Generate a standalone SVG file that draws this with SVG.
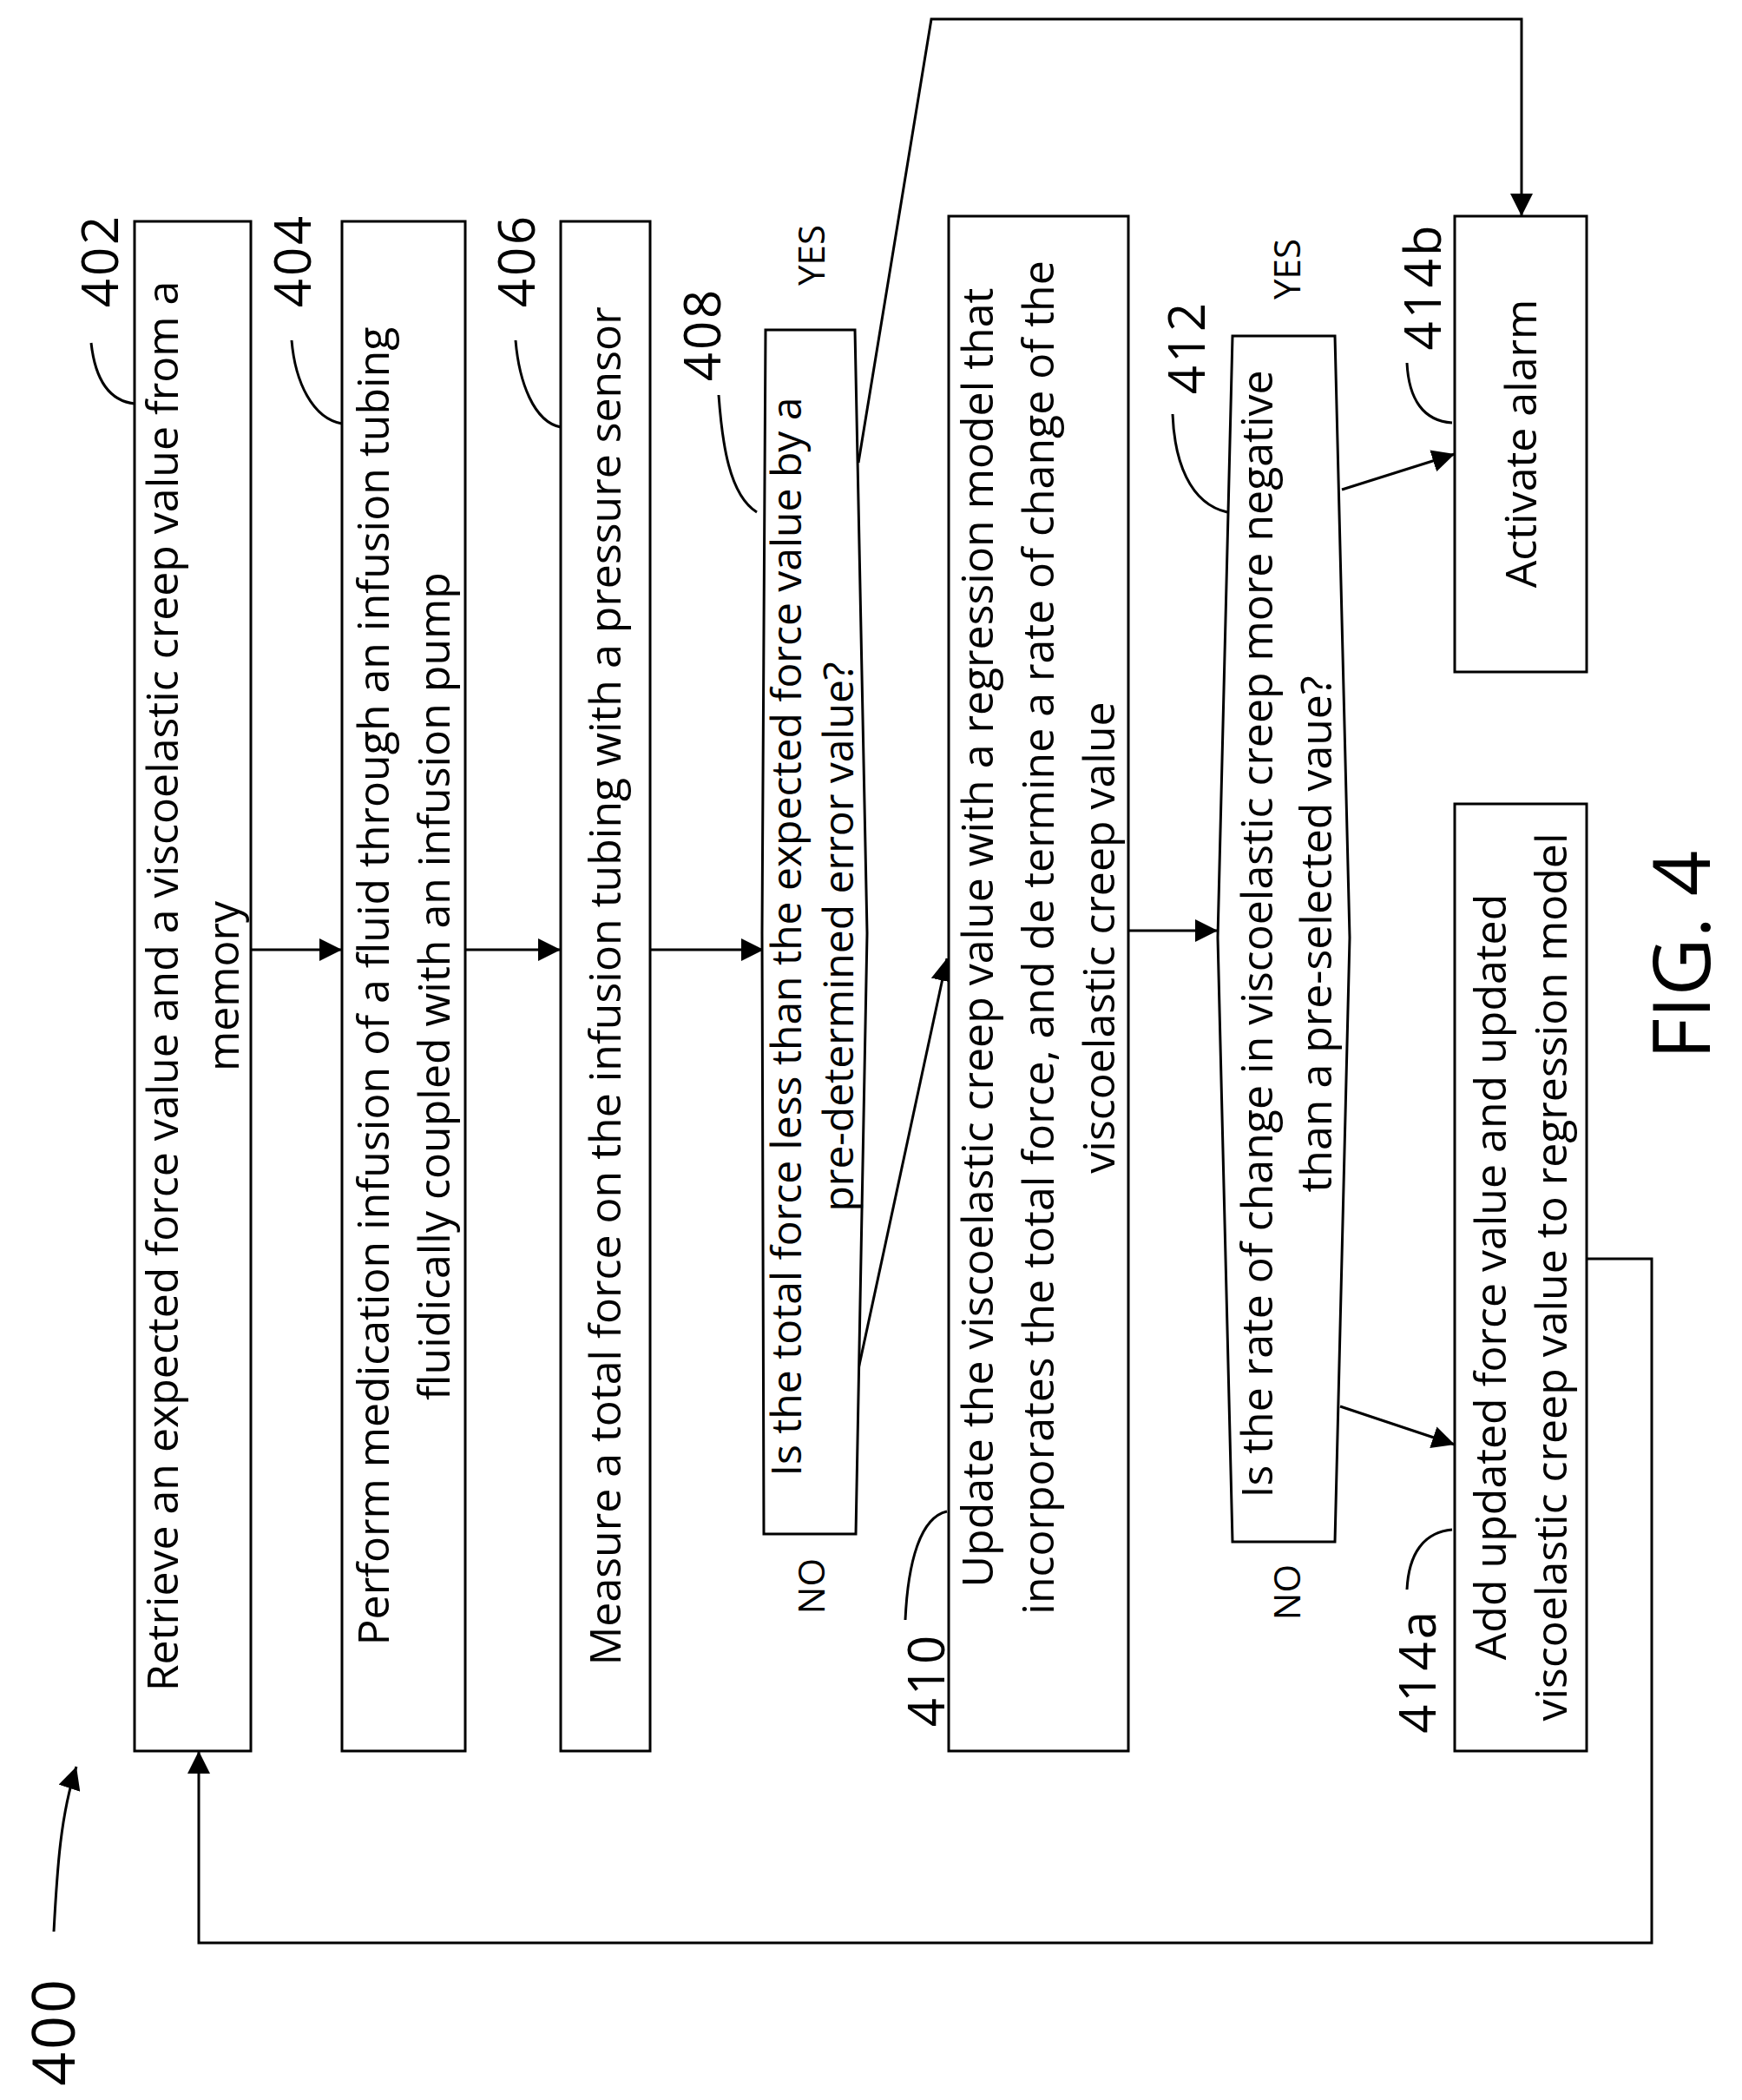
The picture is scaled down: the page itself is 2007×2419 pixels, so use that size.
<svg xmlns="http://www.w3.org/2000/svg" width="2007" height="2419" viewBox="0 0 2007 2419">
<style>
.b{fill:#fff;stroke:#000;stroke-width:3}
.c{fill:none;stroke:#000;stroke-width:3}
.t{font-family:"Open Sans","Liberation Sans",sans-serif;font-size:50px;fill:#000;text-anchor:middle}
.n{font-family:"Open Sans","Liberation Sans",sans-serif;font-size:58px;fill:#000;text-anchor:middle;letter-spacing:3px}
.y{font-family:"Open Sans","Liberation Sans",sans-serif;font-size:42px;fill:#000;text-anchor:middle}
</style>
<defs>
<marker id="a2" viewBox="0 0 10 10" refX="10" refY="5" markerWidth="26" markerHeight="26" markerUnits="userSpaceOnUse" orient="auto"><path d="M0,0 L10,5 L0,10 Z" fill="#000"/></marker>
</defs>
<rect width="2007" height="2419" fill="#fff"/>
<g id="connectors" class="c">
<path d="M289 1094 H394" marker-end="url(#a2)"/>
<path d="M536 1094 H646" marker-end="url(#a2)"/>
<path d="M749 1094 H880" marker-end="url(#a2)"/>
<path d="M989 1577 L1091 1104" marker-end="url(#a2)"/>
<path d="M989 533 L1073 22 H1753 V249" marker-end="url(#a2)"/>
<path d="M1300 1072 H1403" marker-end="url(#a2)"/>
<path d="M1546 564 L1676 523" marker-end="url(#a2)"/>
<path d="M1544 1620 L1676 1664" marker-end="url(#a2)"/>
<path d="M1828 1450 H1903 V2238 H229 V2017" marker-end="url(#a2)"/>
<path d="M62 2225 C66 2150 70 2090 88 2035" marker-end="url(#a2)"/>
<path d="M105 395 C110 440 128 462 155 465"/>
<path d="M336 392 C340 440 360 482 394 488"/>
<path d="M594 392 C598 440 615 486 646 492"/>
<path d="M828 455 C832 510 840 570 872 590"/>
<path d="M1043 1866 C1046 1800 1060 1748 1091 1741"/>
<path d="M1351 477 C1353 530 1370 580 1414 590"/>
<path d="M1621 418 C1623 460 1640 485 1673 487"/>
<path d="M1621 1831 C1623 1790 1640 1765 1673 1762"/>
</g>
<g id="n400"><text class="n" transform="translate(86,2340) rotate(-90)" style="font-size:68px">400</text></g>
<g id="n402"><rect class="b" x="155" y="255" width="134" height="1762"/>
<text class="n" transform="translate(136,300) rotate(-90)">402</text>
<text class="t" transform="translate(205,1136) rotate(-90)">Retrieve an expected force value and a viscoelastic creep value from a</text>
<text class="t" transform="translate(275,1136) rotate(-90)">memory</text></g>
<g id="n404"><rect class="b" x="394" y="255" width="142" height="1762"/>
<text class="n" transform="translate(358,300) rotate(-90)">404</text>
<text class="t" transform="translate(448,1136) rotate(-90)">Perform medication infusion of a  fluid through an infusion tubing</text>
<text class="t" transform="translate(518,1136) rotate(-90)">fluidically coupled with an infusion pump</text></g>
<g id="n406"><rect class="b" x="646" y="255" width="103" height="1762"/>
<text class="n" transform="translate(616,300) rotate(-90)">406</text>
<text class="t" transform="translate(715,1136) rotate(-90)">Measure a total force on the infusion tubing with a pressure sensor</text></g>
<g id="n408"><path class="b" d="M882 380 H985 L999 1075 L986 1767 H880 L878 1075 Z"/>
<text class="n" transform="translate(830,385) rotate(-90)">408</text>
<text class="y" transform="translate(950,294) rotate(-90)">YES</text>
<text class="y" transform="translate(950,1827) rotate(-90)">NO</text>
<text class="t" transform="translate(923,1079) rotate(-90)" style="font-size:48px">Is the total force less than  the expected force value by a</text>
<text class="t" transform="translate(983,1079) rotate(-90)" style="font-size:48px">pre-determined error value?</text></g>
<g id="n410"><rect class="b" x="1093" y="249" width="207" height="1768"/>
<text class="n" transform="translate(1088,1935) rotate(-90)">410</text>
<text class="t" transform="translate(1144,1080) rotate(-90)">Update the viscoelastic creep value with a regression model that</text>
<text class="t" transform="translate(1214,1080) rotate(-90)">incorporates the total force, and de termine a rate of change of the</text>
<text class="t" transform="translate(1284,1080) rotate(-90)">viscoelastic creep value</text></g>
<g id="n412"><path class="b" d="M1420 387 H1538 L1555 1080 L1538 1776 H1420 L1403 1080 Z"/>
<text class="n" transform="translate(1388,400) rotate(-90)">412</text>
<text class="y" transform="translate(1498,310) rotate(-90)">YES</text>
<text class="y" transform="translate(1498,1834) rotate(-90)">NO</text>
<text class="t" transform="translate(1466,1076) rotate(-90)">Is the rate of change in viscoelastic creep more negative</text>
<text class="t" transform="translate(1534,1076) rotate(-90)">than a pre-selected vaue?</text></g>
<g id="n414b"><rect class="b" x="1676" y="249" width="152" height="525"/>
<text class="n" transform="translate(1660,330) rotate(-90)">414b</text>
<text class="t" transform="translate(1770,511) rotate(-90)">Activate alarm</text></g>
<g id="n414a"><rect class="b" x="1676" y="926" width="152" height="1091"/>
<text class="n" transform="translate(1654,1925) rotate(-90)">414a</text>
<text class="t" transform="translate(1735,1471) rotate(-90)">Add updated force value and updated</text>
<text class="t" transform="translate(1805,1471) rotate(-90)">viscoelastic creep value to regression model</text></g>
<g id="fig"><text class="n" transform="translate(1970,1100) rotate(-90)" style="font-size:92px;letter-spacing:0">FIG. 4</text></g>
</svg>
